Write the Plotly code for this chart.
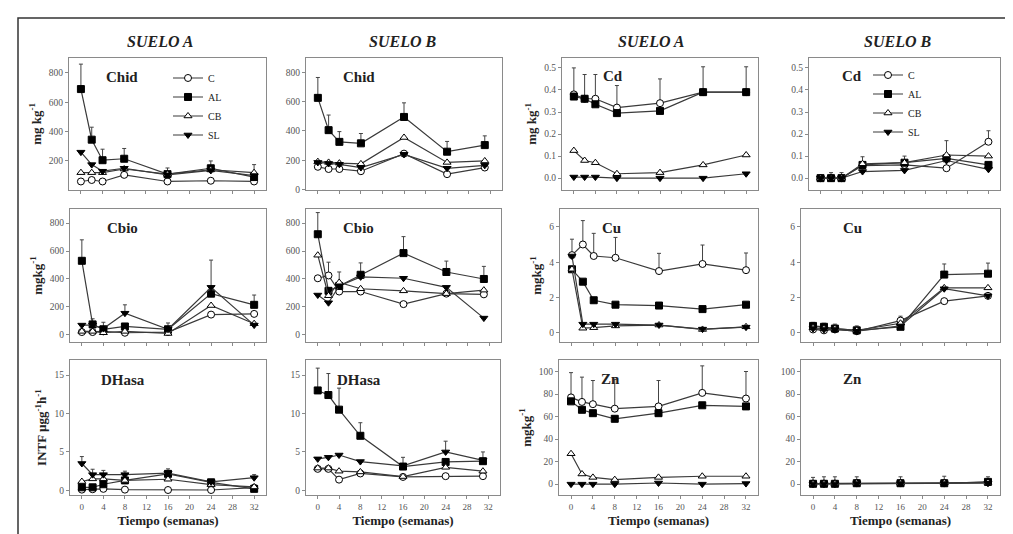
import plotly.graph_objects as go

# ---------------- data ----------------
weeks = [0, 2, 4, 8, 16, 24, 32]
weeks_b31 = [0, 2, 4, 8, 16, 24, 31]   # Suelo B, organic panels (last sampling at week 31)
series_names = ["C", "AL", "CB", "SL"]

# Chid (mg kg-1)
chid_a_C = [60, 70, 60, 105, 60, 65, 60]
chid_a_AL = [690, 345, 205, 215, 110, 150, 90]
chid_a_CB = [120, 120, 120, 145, 110, 140, 120]
chid_a_SL = [260, 175, 130, 150, 105, 135, 100]
chid_a_err_AL = [170, 85, 75, 70, 42, 50, 85]

chid_b_C = [155, 140, 140, 125, 245, 105, 150]
chid_b_AL = [625, 405, 325, 315, 495, 258, 303]
chid_b_CB = [190, 185, 180, 175, 355, 185, 195]
chid_b_SL = [185, 178, 172, 150, 240, 145, 165]
chid_b_err_AL = [139, 103, 70, 67, 96, 70, 63]

# Cbio (mg kg-1)
cbio_a_C = [20, 20, 25, 15, 20, 145, 150]
cbio_a_AL = [530, 75, 40, 60, 40, 295, 215]
cbio_a_CB = [25, 25, 15, 25, 10, 210, 80]
cbio_a_SL = [70, 70, 45, 155, 40, 340, 70]
cbio_a_err_AL = [150, 40, 50, 0, 45, 0, 70]
cbio_a_err_SL = [0, 0, 0, 60, 0, 195, 0]

cbio_b_C = [405, 425, 310, 310, 220, 295, 290]
cbio_b_AL = [720, 315, 350, 430, 585, 450, 400]
cbio_b_CB = [570, 280, 375, 330, 315, 295, 320]
cbio_b_SL = [285, 230, 350, 415, 405, 340, 120]
cbio_b_err_AL = [155, 0, 0, 85, 118, 78, 90]
cbio_b_err_C = [0, 95, 0, 0, 0, 0, 0]
cbio_b_err_CB = [0, 0, 75, 0, 0, 0, 0]

# DHasa (INTF ug g-1 h-1)
dhasa_a_C = [0.1, 0.15, 0.2, 0.1, 0.05, 0.05, 0.35]
dhasa_a_AL = [0.4, 0.4, 0.8, 1.3, 2.15, 1.05, 0.2]
dhasa_a_CB = [1.15, 1.5, 1.5, 1.3, 1.45, 0.75, 0.45]
dhasa_a_SL = [3.5, 2.05, 2.05, 2.05, 2.25, 1.1, 1.65]
dhasa_a_err_SL = [0.9, 0.7, 0.55, 0.45, 0.55, 0.3, 0.4]

dhasa_b_C = [2.8, 2.8, 1.4, 2.2, 1.75, 1.85, 1.85]
dhasa_b_AL = [13.0, 12.4, 10.5, 7.1, 3.1, 3.7, 3.8]
dhasa_b_CB = [2.9, 2.9, 2.5, 2.4, 1.8, 3.0, 2.5]
dhasa_b_SL = [4.1, 4.3, 4.6, 3.75, 3.2, 5.0, 3.9]
dhasa_b_err_AL = [2.9, 2.8, 2.8, 1.7, 1.2, 0, 1.2]
dhasa_b_err_SL = [0, 0, 0, 0, 0, 1.4, 0]

# Cd (mg kg-1)
cd_a_C = [0.38, 0.36, 0.36, 0.32, 0.34, 0.39, 0.39]
cd_a_AL = [0.37, 0.36, 0.335, 0.295, 0.305, 0.39, 0.39]
cd_a_CB = [0.125, 0.08, 0.07, 0.02, 0.025, 0.06, 0.105]
cd_a_SL = [0.005, 0.005, 0.005, 0.0, 0.0, 0.0, 0.02]
cd_a_err_C = [0.12, 0.11, 0.11, 0.10, 0.11, 0.115, 0.115]

cd_b_C = [0.0, 0.0, 0.0, 0.057, 0.06, 0.045, 0.165]
cd_b_AL = [0.0, 0.0, 0.0, 0.06, 0.07, 0.09, 0.06]
cd_b_CB = [0.0, 0.0, 0.0, 0.065, 0.07, 0.105, 0.1]
cd_b_SL = [0.0, 0.0, 0.0, 0.03, 0.035, 0.08, 0.04]
cd_b_err_C = [0, 0.025, 0.025, 0.04, 0.04, 0.125, 0.05]

# Cu (mg kg-1)
cu_a_C = [4.4, 5.0, 4.35, 4.25, 3.5, 3.9, 3.55]
cu_a_AL = [3.6, 2.9, 1.85, 1.6, 1.55, 1.35, 1.6]
cu_a_CB = [3.6, 0.27, 0.3, 0.4, 0.45, 0.2, 0.35]
cu_a_SL = [4.35, 0.5, 0.5, 0.5, 0.45, 0.22, 0.33]
cu_a_err_C = [0.9, 1.35, 1.28, 1.15, 1.0, 1.07, 0.97]

cu_b_C = [0.2, 0.15, 0.2, 0.1, 0.7, 1.8, 2.1]
cu_b_AL = [0.4, 0.35, 0.25, 0.15, 0.35, 3.3, 3.35]
cu_b_CB = [0.3, 0.25, 0.25, 0.15, 0.55, 2.55, 2.55]
cu_b_SL = [0.25, 0.2, 0.2, 0.1, 0.4, 2.5, 2.1]
cu_b_err_AL = [0.2, 0.2, 0.25, 0.25, 0, 0.6, 0.6]
cu_b_err_C = [0, 0, 0, 0, 0.25, 0, 0]

# Zn (mg kg-1)
zn_a_C = [77, 73, 71, 67, 69, 81, 76]
zn_a_AL = [73.5, 66, 63, 58, 63, 70, 69]
zn_a_CB = [27, 9, 6, 4, 6, 7, 7]
zn_a_SL = [0, 0, 0, 0, 1, 0, 0.5]
zn_a_err_C = [22, 22, 21, 26, 23, 24, 24]

zn_b_C = [0.5, 0.5, 0.5, 1, 1, 1, 1.5]
zn_b_AL = [0.3, 0.3, 0.3, 0.8, 0.8, 0.8, 2]
zn_b_CB = [0.5, 0.5, 0.5, 1, 1, 1.2, 1.5]
zn_b_SL = [0.2, 0.2, 0.2, 0.5, 0.5, 0.5, 0.8]
zn_b_err_C = [5.5, 6, 6, 5.5, 5.5, 6, 5]

column_titles = ["SUELO A", "SUELO B", "SUELO A", "SUELO B"]
x_ticks = [0, 4, 8, 12, 16, 20, 24, 28, 32]

# ---------------- figure ----------------
W, H = 1013, 534
FONT = "Liberation Serif"

def px_x(p):
    return p / W

def px_y(p):
    return 1 - p / H

# panel boxes in pixels: (left, right, top, bottom)
col_px = [[(61, 258), (298, 494), (554, 750), (801, 992)],
          [(62, 258), (298, 493), (552, 750), (793, 992)],
          [(62, 258), (298, 492), (551, 750), (793, 992)]]
row_px = [(50, 184), (203, 337), (355, 492)]

panels = [
    # row 1
    dict(x=weeks, s=[chid_a_C, chid_a_AL, chid_a_CB, chid_a_SL], err={"AL": chid_a_err_AL},
         label="Chid", yr=[0, 905], yt=[200, 400, 600, 800], fmt="d", yt_title="mg kg<sup>-1</sup>", lab=(0.18, 0.85)),
    dict(x=weeks_b31, s=[chid_b_C, chid_b_AL, chid_b_CB, chid_b_SL], err={"AL": chid_b_err_AL},
         label="Chid", yr=[-5, 900], yt=[0, 200, 400, 600, 800], fmt="d", yt_title=None, lab=(0.18, 0.85)),
    dict(x=weeks, s=[cd_a_C, cd_a_AL, cd_a_CB, cd_a_SL], err={"C": cd_a_err_C},
         label="Cd", yr=[-0.055, 0.547], yt=[0, 0.1, 0.2, 0.3, 0.4, 0.5], fmt=".1f", yt_title="mg kg<sup>-1</sup>", lab=(0.2, 0.86)),
    dict(x=weeks, s=[cd_b_C, cd_b_AL, cd_b_CB, cd_b_SL], err={"C": cd_b_err_C},
         label="Cd", yr=[-0.055, 0.547], yt=[0, 0.1, 0.2, 0.3, 0.4, 0.5], fmt=".1f", yt_title=None, lab=(0.16, 0.86)),
    # row 2
    dict(x=weeks, s=[cbio_a_C, cbio_a_AL, cbio_a_CB, cbio_a_SL], err={"AL": cbio_a_err_AL, "SL": cbio_a_err_SL},
         label="Cbio", yr=[-50, 900], yt=[0, 200, 400, 600, 800], fmt="d", yt_title="mgkg<sup>-1</sup>", lab=(0.18, 0.86)),
    dict(x=weeks_b31, s=[cbio_b_C, cbio_b_AL, cbio_b_CB, cbio_b_SL],
         err={"AL": cbio_b_err_AL, "C": cbio_b_err_C, "CB": cbio_b_err_CB},
         label="Cbio", yr=[-50, 900], yt=[0, 200, 400, 600, 800], fmt="d", yt_title=None, lab=(0.18, 0.86)),
    dict(x=weeks, s=[cu_a_C, cu_a_AL, cu_a_CB, cu_a_SL], err={"C": cu_a_err_C},
         label="Cu", yr=[-0.5, 7], yt=[0, 2, 4, 6], fmt="d", yt_title="mgkg<sup>-1</sup>", lab=(0.2, 0.86)),
    dict(x=weeks, s=[cu_b_C, cu_b_AL, cu_b_CB, cu_b_SL], err={"AL": cu_b_err_AL, "C": cu_b_err_C},
         label="Cu", yr=[-0.5, 7], yt=[0, 2, 4, 6], fmt="d", yt_title=None, lab=(0.2, 0.86)),
    # row 3
    dict(x=weeks, s=[dhasa_a_C, dhasa_a_AL, dhasa_a_CB, dhasa_a_SL], err={"SL": dhasa_a_err_SL},
         label="DHasa", yr=[-0.65, 17], yt=[0, 5, 10, 15], fmt="d",
         yt_title="INTF µgg<sup>-1</sup>h<sup>-1</sup>", lab=(0.15, 0.85)),
    dict(x=weeks_b31, s=[dhasa_b_C, dhasa_b_AL, dhasa_b_CB, dhasa_b_SL], err={"AL": dhasa_b_err_AL, "SL": dhasa_b_err_SL},
         label="DHasa", yr=[-0.65, 17], yt=[0, 5, 10, 15], fmt="d", yt_title=None, lab=(0.15, 0.85)),
    dict(x=weeks, s=[zn_a_C, zn_a_AL, zn_a_CB, zn_a_SL], err={"C": zn_a_err_C},
         label="Zn", yr=[-10, 110.5], yt=[0, 20, 40, 60, 80, 100], fmt="d", yt_title="mgkg<sup>-1</sup>", lab=(0.2, 0.86)),
    dict(x=weeks, s=[zn_b_C, zn_b_AL, zn_b_CB, zn_b_SL], err={"C": zn_b_err_C},
         label="Zn", yr=[-10, 110.5], yt=[0, 20, 40, 60, 80, 100], fmt="d", yt_title=None, lab=(0.2, 0.86)),
]

styles = {
    "C": dict(symbol="circle", color="white"),
    "AL": dict(symbol="square", color="black"),
    "CB": dict(symbol="triangle-up", color="white"),
    "SL": dict(symbol="triangle-down", color="black"),
}

LINE_COL = "#3a3a3a"
AX_COL = "#8a8a8a"

fig = go.Figure()
annotations = []

for k, p in enumerate(panels):
    r, c = divmod(k, 4)
    idx = k + 1
    xa = "x" if idx == 1 else f"x{idx}"
    ya = "y" if idx == 1 else f"y{idx}"
    xs = p["x"]
    # error bars (upward only), drawn first
    for name, errs in p["err"].items():
        yv = p["s"][series_names.index(name)]
        ex = [xs[i] for i in range(len(xs)) if errs[i] > 0]
        ey = [yv[i] for i in range(len(xs)) if errs[i] > 0]
        ee = [errs[i] for i in range(len(xs)) if errs[i] > 0]
        fig.add_trace(go.Scatter(
            x=ex, y=ey, mode="markers", xaxis=xa, yaxis=ya, showlegend=False,
            marker=dict(size=1, color="rgba(0,0,0,0)"),
            error_y=dict(type="data", array=ee, arrayminus=[0] * len(ee), symmetric=False,
                         color="#444", thickness=1, width=2),
            hoverinfo="skip"))
    for name, yv in zip(series_names, p["s"]):
        st = styles[name]
        show = idx in (1, 4)
        fig.add_trace(go.Scatter(
            x=xs, y=yv, mode="lines+markers", name=name, xaxis=xa, yaxis=ya,
            showlegend=show, legend="legend" if idx == 1 else "legend2",
            line=dict(color=LINE_COL, width=1.2),
            marker=dict(symbol=st["symbol"], size=7, color=st["color"],
                        line=dict(color="black", width=1))))

    left, right = col_px[r][c]
    top, bottom = row_px[r]
    xkey = "xaxis" if idx == 1 else f"xaxis{idx}"
    ykey = "yaxis" if idx == 1 else f"yaxis{idx}"
    fig.layout[xkey] = dict(
        domain=[px_x(left), px_x(right)], anchor=ya, range=[-2.2, 34.2],
        tickvals=x_ticks, ticks="outside", ticklen=3, tickcolor=AX_COL,
        showticklabels=(r == 2), tickfont=dict(family=FONT, size=9, color="#555"),
        showline=True, linecolor=AX_COL, linewidth=1.2, mirror=True,
        showgrid=False, zeroline=False,
        title=dict(text="<b>Tiempo (semanas)</b>" if r == 2 else "",
                   font=dict(family=FONT, size=13, color="#222"), standoff=4))
    fig.layout[ykey] = dict(
        domain=[px_y(bottom), px_y(top)], anchor=xa, range=p["yr"],
        tickvals=p["yt"], ticktext=[format(v, p["fmt"]) if p["fmt"] != "d" else str(int(v)) for v in p["yt"]],
        ticks="outside", ticklen=3, tickcolor=AX_COL,
        tickfont=dict(family=FONT, size=9.5, color="#555"),
        showline=True, linecolor=AX_COL, linewidth=1.2, mirror=True,
        showgrid=False, zeroline=False,
        title=dict(text=f"<b>{p['yt_title']}</b>" if p["yt_title"] else "",
                   font=dict(family=FONT, size=13, color="#222"), standoff=4))
    annotations.append(dict(
        text=f"<b>{p['label']}</b>", xref=f"{xa} domain", yref=f"{ya} domain",
        x=p["lab"][0], y=p["lab"][1], xanchor="left", yanchor="middle", showarrow=False,
        font=dict(family=FONT, size=15, color="#222")))

title_centers = [152, 394, 643, 889]
for t, cx in zip(column_titles, title_centers):
    annotations.append(dict(
        text=f"<b><i>{t}</i></b>", xref="paper", yref="paper", x=px_x(cx), y=px_y(34),
        xanchor="center", yanchor="middle", showarrow=False,
        font=dict(family=FONT, size=16, color="#222")))

fig.update_layout(
    width=W, height=H, margin=dict(l=0, r=0, t=0, b=0),
    paper_bgcolor="white", plot_bgcolor="white",
    annotations=annotations,
    shapes=[dict(type="rect", xref="paper", yref="paper", x0=px_x(10), x1=px_x(1003),
                 y0=-0.05, y1=px_y(10), line=dict(color="#333", width=1.5))],
    legend=dict(x=px_x(160), y=px_y(56), xanchor="left", yanchor="top",
                bgcolor="rgba(0,0,0,0)", font=dict(family=FONT, size=10, color="#222"),
                itemwidth=30, tracegroupgap=0),
    legend2=dict(x=px_x(860), y=px_y(53), xanchor="left", yanchor="top",
                 bgcolor="rgba(0,0,0,0)", font=dict(family=FONT, size=10, color="#222"),
                 itemwidth=30, tracegroupgap=0),
    showlegend=True,
)

fig.write_html("out.html")
